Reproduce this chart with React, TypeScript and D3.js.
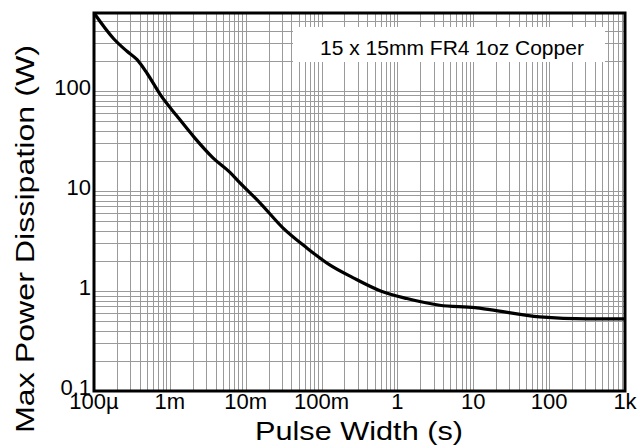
import * as d3 from 'd3';
import { useRef, useEffect } from 'react';

// pulse width (s) vs max power dissipation (W)
const pulseWidth = [
  1e-4, 1.83e-4, 2.7e-4, 3.7e-4, 5.0e-4, 7.6e-4, 1.24e-3, 2.07e-3, 3.7e-3,
  6.2e-3, 8.4e-3, 1.54e-2, 3.09e-2, 6.4e-2, 0.128, 0.258, 0.6, 1.33, 3.6, 10.5,
  16.5, 75, 316, 1000,
];
const maxPower = [
  600, 330, 250, 205, 150, 90, 56, 34.7, 21.4, 15.3, 12, 7.6, 4.27, 2.69,
  1.82, 1.36, 1.0, 0.84, 0.72, 0.68, 0.65, 0.55, 0.525, 0.525,
];

const xTicks = [1e-4, 1e-3, 1e-2, 1e-1, 1, 10, 100, 1000];
const xTickLabels = ['100µ', '1m', '10m', '100m', '1', '10', '100', '1k'];
const yTicks = [0.1, 1, 10, 100];
const yTickLabels = ['0.1', '1', '10', '100'];

const xTitle = 'Pulse Width (s)';
const yTitle = 'Max Power Dissipation (W)';
const note = '15 x 15mm FR4 1oz Copper';

const width = 638;
const height = 446;
const margin = { top: 13, right: 13, bottom: 55, left: 94 };
const font = "Arial, 'Liberation Sans', sans-serif";

export default function App() {
  const ref = useRef<SVGSVGElement>(null);

  useEffect(() => {
    const svg = d3.select(ref.current);
    svg.selectAll('*').remove();

    const x = d3
      .scaleLog()
      .domain([1e-4, 1000])
      .range([margin.left, width - margin.right]);
    const y = d3
      .scaleLog()
      .domain([0.1, 600])
      .range([height - margin.bottom, margin.top]);

    // minor + major grid
    const xGrid: number[] = [];
    for (let e = -4; e < 3; e++) {
      for (let m = 1; m <= 9; m++) xGrid.push(m * Math.pow(10, e));
    }
    const yGrid: number[] = [];
    for (let e = -1; e < 3; e++) {
      for (let m = 1; m <= 9; m++) {
        const v = m * Math.pow(10, e);
        if (v <= 600) yGrid.push(v);
      }
    }

    const grid = svg.append('g').attr('stroke', '#9a9a9a').attr('stroke-width', 1);
    grid
      .selectAll('line.v')
      .data(xGrid)
      .join('line')
      .attr('class', 'v')
      .attr('x1', (d) => Math.round(x(d)) + 0.5)
      .attr('x2', (d) => Math.round(x(d)) + 0.5)
      .attr('y1', y.range()[1])
      .attr('y2', y.range()[0]);
    grid
      .selectAll('line.h')
      .data(yGrid)
      .join('line')
      .attr('class', 'h')
      .attr('y1', (d) => Math.round(y(d)) + 0.5)
      .attr('y2', (d) => Math.round(y(d)) + 0.5)
      .attr('x1', x.range()[0])
      .attr('x2', x.range()[1]);

    // annotation box
    svg
      .append('rect')
      .attr('x', 293)
      .attr('y', 27)
      .attr('width', 312)
      .attr('height', 35)
      .attr('fill', '#fff');
    svg
      .append('text')
      .attr('x', 452)
      .attr('y', 55)
      .attr('text-anchor', 'middle')
      .attr('font-family', font)
      .attr('font-size', 21)
      .attr('fill', '#000')
      .text(note);

    // curve
    const line = d3
      .line<number>()
      .x((d) => x(d))
      .y((_, i) => y(maxPower[i]))
      .curve(d3.curveMonotoneX);
    svg
      .append('path')
      .attr('d', line(pulseWidth))
      .attr('fill', 'none')
      .attr('stroke', '#000')
      .attr('stroke-width', 3.2)
      .attr('stroke-linejoin', 'round');

    // frame
    svg
      .append('rect')
      .attr('x', x.range()[0])
      .attr('y', y.range()[1])
      .attr('width', x.range()[1] - x.range()[0])
      .attr('height', y.range()[0] - y.range()[1])
      .attr('fill', 'none')
      .attr('stroke', '#000')
      .attr('stroke-width', 3);

    // tick labels
    svg
      .append('g')
      .selectAll('text')
      .data(xTicks)
      .join('text')
      .attr('x', (d) => x(d))
      .attr('y', 409)
      .attr('text-anchor', 'middle')
      .attr('font-family', font)
      .attr('font-size', 22)
      .text((_, i) => xTickLabels[i]);
    svg
      .append('g')
      .selectAll('text')
      .data(yTicks)
      .join('text')
      .attr('x', 91)
      .attr('y', (d) => y(d) + 4)
      .attr('text-anchor', 'end')
      .attr('font-family', font)
      .attr('font-size', 22)
      .text((_, i) => yTickLabels[i]);

    // axis titles
    svg
      .append('text')
      .attr('x', 359)
      .attr('y', 440)
      .attr('text-anchor', 'middle')
      .attr('font-family', font)
      .attr('font-size', 26)
      .attr('textLength', 208)
      .attr('lengthAdjust', 'spacingAndGlyphs')
      .text(xTitle);
    svg
      .append('text')
      .attr('transform', 'translate(34,239) rotate(-90)')
      .attr('text-anchor', 'middle')
      .attr('font-family', font)
      .attr('font-size', 26)
      .attr('textLength', 388)
      .attr('lengthAdjust', 'spacingAndGlyphs')
      .text(yTitle);
  }, []);

  return (
    <svg
      ref={ref}
      width={width}
      height={height}
      style={{ position: 'absolute', left: 0, top: 0, background: '#fff' }}
    />
  );
}
